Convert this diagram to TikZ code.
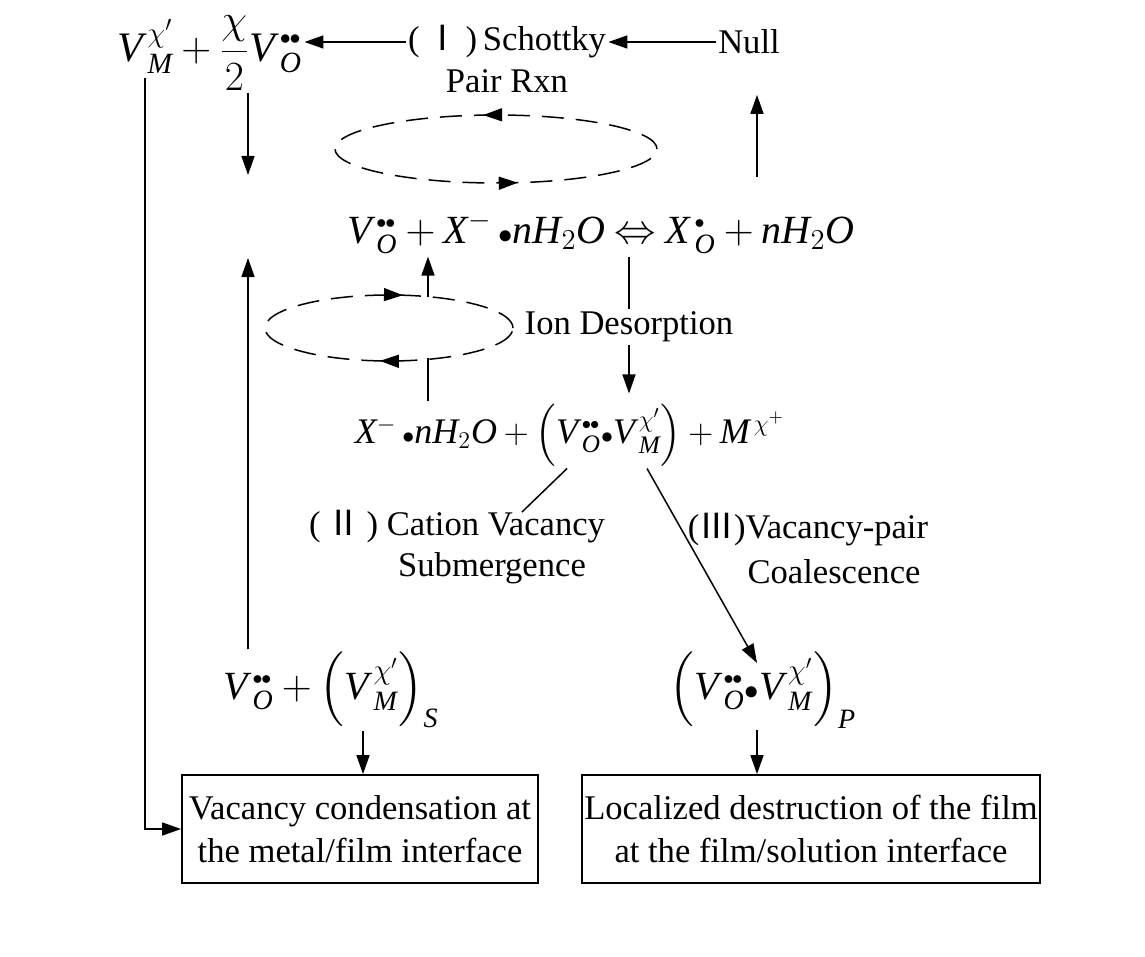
\documentclass[tikz,border=0pt]{standalone}
\usepackage{amsmath}
\usepackage{fontspec}
\setmainfont{Liberation Serif}
\newfontfamily\cjk{Noto Sans CJK SC}
\usetikzlibrary{arrows.meta,positioning,shapes.geometric,decorations.markings}
\newcommand{\dd}{{\scriptscriptstyle\bullet\mkern-1mu\bullet}}
\newcommand{\sd}{{\scriptscriptstyle\bullet}}
\newcommand{\bt}{\mathord{\scriptstyle\bullet}}
\newcommand{\mi}[1]{\mathit{#1}}
\newcommand{\Vo}{{\mi{V}\mkern2mu}_{\mi{O}}^{\dd}}
\newcommand{\Vm}{{\mi{V}\mkern2mu}_{\mi{M}}^{\chi'}}
\newcommand{\chemsp}{\medmuskip=3.5mu\relax\thickmuskip=4mu\relax}

\begin{document}
\begin{tikzpicture}[
    x=0.5pt, y=-0.5pt,
    node distance=3pt and 10pt,
    txt/.style={font=\fontsize{17.3}{20}\selectfont, inner sep=1pt},
    chem/.style={font=\fontsize{20}{24}\selectfont, execute at begin node=\chemsp, inner sep=1pt},
    box/.style={draw, line width=0.9pt, align=center, inner sep=1pt, minimum height=54pt, font=\fontsize{17.3}{21.5}\selectfont},
    loopline/.style={draw, dash pattern=on 11pt off 6pt, line width=0.75pt, postaction={decorate}},
    arrow/.style={-{Triangle[length=9.5pt,width=6.5pt]}, line width=0.75pt},
    link/.style={line width=0.75pt}
  ]
    \useasboundingbox (0,0) rectangle (1145,957);

    \node[chem, font=\fontsize{21}{25}\selectfont, anchor=base west] (topf) at (115,62) {$\displaystyle \Vm + \frac{\chi}{2}\Vo$};
    \node[txt] (schottky) at (507,42) {(\,{\cjk Ⅰ}\,)\,Schottky};
    \node[txt, below=3pt of schottky] (pair) {Pair Rxn};
    \node[txt] (null) at (749,42) {Null};
    \node[chem] (midf) at (601,233) {$\Vo + \mi{X}^{-}\,\bt\mi{nH}_{2}\mi{O} \Leftrightarrow {\mi{X}\mkern2mu}_{\mi{O}}^{\sd} + \mi{nH}_{2}\mi{O}$};
    \node[txt] (ion) at (629,327) {Ion Desorption};
    \node[chem, font=\fontsize{18}{22}\selectfont] (lowf) at (570,435) {$\mi{X}^{-}\,\bt\mi{nH}_{2}\mi{O} + \Bigl(\Vo\bt\Vm\Bigr) + \mi{M}^{\,\chi^{+}}$};
    \node[txt] (cation) at (457,527) {(\,{\cjk Ⅱ}\,) Cation Vacancy};
    \node[txt] (subm) at (492,568) {Submergence};
    \node[txt] (pairc) at (808,530) {({\cjk Ⅲ})Vacancy-pair};
    \node[txt] (coal) at (834,572) {Coalescence};
    \node[chem] (sf) at (331,690) {$\Vo + \Bigl(\Vm\Bigr)_{\mi{S}}$};
    \node[chem] (pf) at (763,690) {$\Bigl(\Vo\bt\Vm\Bigr)_{\mi{P}}$};
    \node[box, minimum width=178pt] (cond) at (360,829) {Vacancy condensation at\\the metal/film interface};
    \node[box, minimum width=229pt] (destr) at (811,829) {Localized destruction of the film\\at the film/solution interface};

    % dashed cycles
    \draw[loopline, decoration={markings,
        mark=at position 0.269 with {\arrow{Triangle[length=9.5pt,width=6.5pt]}},
        mark=at position 0.782 with {\arrow{Triangle[length=9.5pt,width=6.5pt]}}}]
      (496,149) ellipse [x radius=80.5pt, y radius=17pt];
    \draw[loopline, decoration={markings,
        mark=at position 0.224 with {\arrowreversed{Triangle[length=9.5pt,width=6.5pt]}},
        mark=at position 0.733 with {\arrowreversed{Triangle[length=9.5pt,width=6.5pt]}}}]
      (389,328) ellipse [x radius=62pt, y radius=16.5pt];

    \coordinate (vm) at (145,78);
    \coordinate (vodown) at (248,175);
    \coordinate (voup) at (248,258);
    \coordinate (nullup) at (757,177);
    \coordinate (cyctop) at (428,297);
    \coordinate (cycbot) at (428,358);
    \coordinate (subline) at (522,512);
    \coordinate (subfoot) at (567,470);
    \coordinate (coalfoot) at (647,470);
    \coordinate (ptip) at (757,663);
    \coordinate (sdrop) at (363,720);
    \coordinate (pdrop) at (757,720);

    \draw[arrow] (schottky.west) -- (schottky.west -| topf.east);
    \draw[arrow] (null.west) -- (schottky.east);
    \draw[arrow] (topf.south -| vodown) -- (vodown);
    \draw[arrow] (nullup) -- (nullup |- pair.south);
    \draw[arrow] (vm) |- (cond.west);
    \draw[arrow] (sf.north -| voup) -- (voup);
    \draw[arrow] (cyctop) -- (midf.south -| cyctop);
    \draw[link] (lowf.north -| cycbot) -- (cycbot);
    \draw[link] (midf.south -| ion.north) -- (ion.north);
    \draw[arrow, shorten >=4pt] (ion.south) -- (lowf.north -| ion.south);
    \draw[link] (lowf.south -| subfoot) -- (subline);
    \draw[arrow] (lowf.south -| coalfoot) -- (ptip);
    \draw[arrow] (sf.south -| sdrop) -- (cond.north -| sdrop);
    \draw[arrow] (pf.south -| pdrop) -- (destr.north -| pdrop);
\end{tikzpicture}
\end{document}
